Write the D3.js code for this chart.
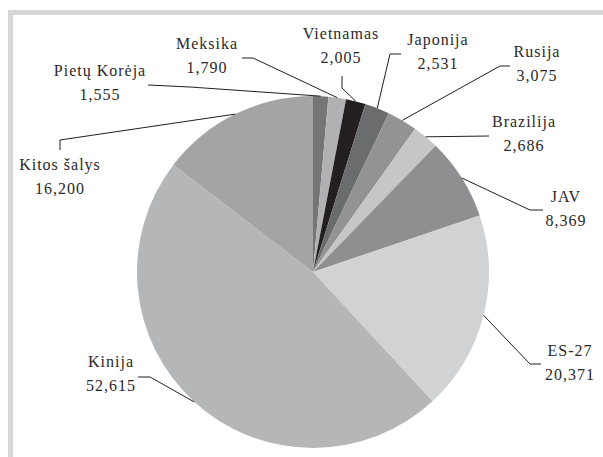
<!DOCTYPE html>
<html>
<head>
<meta charset="utf-8">
<script src="https://cdn.jsdelivr.net/npm/d3@7/dist/d3.min.js"></script>
<style>
  body { margin: 0; background: #fff; }
</style>
</head>
<body>
<div id="chart"></div>
<script>
// duomenys (clockwise from 12 o'clock)
const countries = ["Pietų Korėja", "Meksika", "Vietnamas", "Japonija", "Rusija",
                   "Brazilija", "JAV", "ES-27", "Kinija", "Kitos šalys"];
const values = [1555, 1790, 2005, 2531, 3075, 2686, 8369, 20371, 52615, 16200];
const shades = ["#757578", "#b1b1b3", "#231f20", "#6b6c6e", "#939395",
                "#c6c6c8", "#8f8f91", "#d1d2d4", "#b5b6b8", "#a4a4a6"];

// label placement: [x, baseline of name], leader elbows from label side
const labelPos = [[100, 76], [207, 49], [341, 39], [438, 45], [537, 57],
                  [524, 127], [566, 202], [570, 356], [111, 367], [60, 170]];
const elbows = [
  [[148, 85], [190, 87]],
  [[242, 58], [253, 58]],
  [[342, 76], [342, 88]],
  [[401, 54], [390, 54]],
  [[510, 66], [500, 66]],
  [[489, 136]],
  [[543, 210], [530, 210]],
  [[541, 364], [530, 364]],
  [[138, 377], [150, 377]],
  [[60, 150], [60, 140]]
];

const W = 603, H = 457;
const cx = 313, cy = 272, r = 176;
const fontFam = "'Liberation Serif', 'Times New Roman', serif";

const svg = d3.select("#chart").append("svg")
  .attr("width", W).attr("height", H);

// frame
svg.append("rect").attr("x", 8).attr("y", 10).attr("width", W - 8).attr("height", 5).attr("fill", "#d6d6d6");
svg.append("rect").attr("x", 8).attr("y", 10).attr("width", 5).attr("height", H - 10).attr("fill", "#d6d6d6");

const pie = d3.pie().sort(null).value(d => d.v);
const data = countries.map((c, i) => ({ c, v: values[i], i }));
const arcs = pie(data);

const arc = d3.arc().innerRadius(0).outerRadius(r);
const edge = d3.arc().innerRadius(r).outerRadius(r);

const g = svg.append("g").attr("transform", `translate(${cx},${cy})`);

g.selectAll("path.slice")
  .data(arcs)
  .enter()
  .append("path")
  .attr("class", "slice")
  .attr("d", arc)
  .attr("fill", d => shades[d.data.i]);

// leader lines
svg.selectAll("path.leader")
  .data(arcs)
  .enter()
  .append("path")
  .attr("class", "leader")
  .attr("fill", "none")
  .attr("stroke", "#231f20")
  .attr("stroke-width", 1)
  .attr("d", d => {
    const [ex, ey] = edge.centroid(d);
    const pts = elbows[d.data.i].concat([[cx + ex, cy + ey]]);
    return d3.line()(pts);
  });

const fmt = d3.format(",");

const labels = svg.selectAll("g.label")
  .data(arcs)
  .enter()
  .append("g")
  .attr("class", "label")
  .attr("transform", d => `translate(${labelPos[d.data.i][0]},${labelPos[d.data.i][1]})`)
  .attr("font-family", fontFam)
  .attr("font-size", 16)
  .attr("letter-spacing", 1)
  .attr("fill", "#2b2829");

labels.append("text")
  .attr("text-anchor", "middle")
  .text(d => d.data.c);

labels.append("text")
  .attr("text-anchor", "middle")
  .attr("y", 24)
  .text(d => fmt(d.data.v));
</script>
</body>
</html>
